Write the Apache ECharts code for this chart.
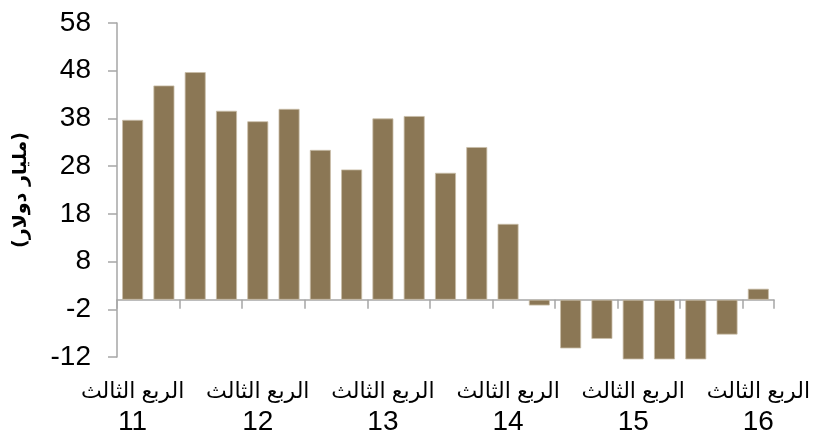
<!DOCTYPE html>
<html>
<head>
<meta charset="utf-8">
<script src="https://cdn.jsdelivr.net/npm/echarts@6/dist/echarts.min.js"></script>
<style>
html,body{margin:0;padding:0;background:#fff;}
#c{width:813px;height:438px;}
</style>
</head>
<body>
<div id="c"></div>
<script>
const quarters = ['الربع الثالث','الربع الرابع','الربع الأول','الربع الثاني',
  'الربع الثالث','الربع الرابع','الربع الأول','الربع الثاني',
  'الربع الثالث','الربع الرابع','الربع الأول','الربع الثاني',
  'الربع الثالث','الربع الرابع','الربع الأول','الربع الثاني',
  'الربع الثالث','الربع الرابع','الربع الأول','الربع الثاني',
  'الربع الثالث'];
const years = ['11','11','12','12','12','12','13','13','13','13','14','14','14','14','15','15','15','15','16','16','16'];
const values = [37.7, 44.9, 47.7, 39.6, 37.4, 40.0, 31.4, 27.3, 38.0, 38.5, 26.6, 32.0,
  15.9, -1.2, -10.2, -8.2, -12.5, -12.5, -12.5, -7.3, 2.3];
const yTicks = { min: -12, max: 58, interval: 10 };
const yTitle = '(مليار دولار)';

const categories = quarters.map((q, i) => q + ' ' + years[i]);
const chart = echarts.init(document.getElementById('c'));
chart.setOption({
  animation: false,
  grid: { left: 117, right: 38, top: 23, bottom: 81, containLabel: false },
  xAxis: [{
    type: 'category',
    data: categories,
    axisLine: { onZero: true, lineStyle: { color: '#a6a6a6', width: 1.5 } },
    axisTick: { show: true, interval: 1, length: 9, lineStyle: { color: '#a6a6a6', width: 1.5 } },
    axisLabel: { show: false }
  }, {
    type: 'category',
    data: categories,
    position: 'bottom',
    axisLine: { show: false, onZero: false },
    axisTick: { show: false },
    axisLabel: {
      interval: 3,
      margin: 20,
      formatter: (v, i) => '{q|' + quarters[i] + '}\n{y|' + years[i] + '}',
      rich: {
        q: { fontFamily: 'Liberation Sans, Arial, DejaVu Sans', fontSize: 22, color: '#000', lineHeight: 30 },
        y: { fontFamily: 'Liberation Sans, Arial', fontSize: 28, color: '#000', lineHeight: 30 }
      }
    }
  }],
  yAxis: {
    type: 'value',
    min: yTicks.min, max: yTicks.max, interval: yTicks.interval,
    name: yTitle,
    nameLocation: 'middle',
    nameRotate: 90,
    nameGap: 86,
    nameTextStyle: { fontFamily: 'DejaVu Sans, sans-serif', fontSize: 19, fontWeight: 'bold', color: '#000' },
    axisLine: { show: true, lineStyle: { color: '#a6a6a6', width: 1.5 } },
    axisTick: { show: true, length: 9, lineStyle: { color: '#a6a6a6', width: 1.5 } },
    splitLine: { show: false },
    axisLabel: { margin: 26, fontFamily: 'Liberation Sans, Arial', fontSize: 28, color: '#000' }
  },
  series: [{
    type: 'bar',
    data: values,
    xAxisIndex: 0,
    barCategoryGap: '33%',
    clip: false,
    itemStyle: { color: '#8b7755', borderColor: '#c9bea8', borderWidth: 0.8 }
  }]
});
</script>
</body>
</html>
